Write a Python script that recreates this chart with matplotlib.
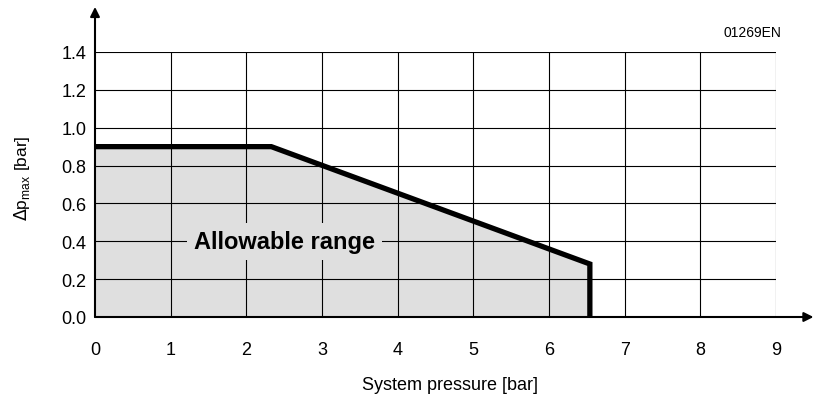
import matplotlib
matplotlib.use("Agg")
import matplotlib.pyplot as plt

plt.rcParams['font.family'] = ['Liberation Sans', 'DejaVu Sans']

# boundary of the allowable range
pressure = [0, 2.33, 6.54, 6.54]
dp_max = [0.9, 0.9, 0.28, 0.0]

x_ticks = [0, 1, 2, 3, 4, 5, 6, 7, 8, 9]
y_ticks = [0.0, 0.2, 0.4, 0.6, 0.8, 1.0, 1.2, 1.4]

fig = plt.figure(figsize=(8.15, 4.02), dpi=100)
ax = fig.add_axes([95/815, 1-318/402, 681/815, 265/402])

ax.fill_between(pressure, dp_max, 0, color='#dfdfdf', lw=0, zorder=1)

# grid
for x in x_ticks[1:]:
    ax.plot([x, x], [0, 1.4], color='black', lw=0.8, zorder=2)
for y in y_ticks[1:]:
    ax.plot([0, 9], [y, y], color='black', lw=0.8, zorder=2)

ax.plot(pressure, dp_max, color='black', lw=3.8, solid_joinstyle='miter', zorder=4)

ax.set_xlim(0, 9)
ax.set_ylim(0, 1.4)
for s in ax.spines.values():
    s.set_visible(False)

# axes with arrows
ax.annotate('', xy=(1.055, 0), xytext=(0, 0), xycoords='axes fraction',
            arrowprops=dict(arrowstyle='-|>', color='black', lw=1.5, mutation_scale=14,
                            shrinkA=0, shrinkB=0), zorder=5)
ax.annotate('', xy=(0, 1.17), xytext=(0, 0), xycoords='axes fraction',
            arrowprops=dict(arrowstyle='-|>', color='black', lw=1.5, mutation_scale=14,
                            shrinkA=0, shrinkB=0), zorder=5)

ax.set_xticks(x_ticks)
ax.set_yticks(y_ticks)
ax.set_yticklabels([f'{v:.1f}' for v in y_ticks])
ax.tick_params(axis='both', length=0, labelsize=13)
ax.tick_params(axis='x', pad=17)
ax.tick_params(axis='y', pad=6)

ax.text(2.5, 0.4, 'Allowable range', fontsize=17, fontweight='bold', ha='center', va='center',
        bbox=dict(facecolor='#dfdfdf', edgecolor='none', pad=5), zorder=3)

fig.text(450/815, 1-386/402, 'System pressure [bar]', fontsize=13, ha='center', va='center')
fig.text(22/815, 1-178/402, r'$\Delta$p$_{\mathregular{max}}$ [bar]', fontsize=12.5, rotation=90,
         ha='center', va='center')
fig.text(752/815, 1-33/402, '01269EN', fontsize=10, ha='center', va='center')

plt.savefig('out.png', dpi=100)
